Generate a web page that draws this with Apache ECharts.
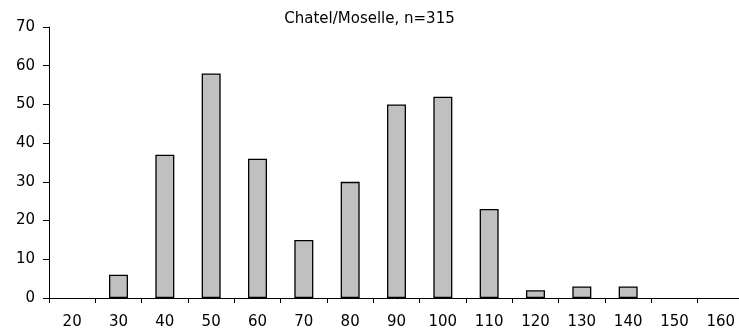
<!DOCTYPE html>
<html>
<head>
<meta charset="utf-8">
<script src="https://cdn.jsdelivr.net/npm/echarts@6/dist/echarts.min.js"></script>
<style>html,body{margin:0;padding:0;background:#fff;}#c{width:739px;height:334px;}</style>
</head>
<body>
<div id="c"></div>
<script>
const titleText = 'Chatel/Moselle, n=315';
const categories = ['20','30','40','50','60','70','80','90','100','110','120','130','140','150','160'];
const counts = [0, 6, 37, 58, 36, 15, 30, 50, 52, 23, 2, 3, 3, 0, 0];
const yTicks = { min: 0, max: 70, interval: 10 };

const font = 'DejaVu Sans';
const barData = counts.map(v => v === 0 ? { value: v, itemStyle: { borderWidth: 0 } } : v);
const chart = echarts.init(document.getElementById('c'), null, { renderer: 'canvas' });
chart.setOption({
  animation: false,
  backgroundColor: '#ffffff',
  title: {
    text: titleText,
    left: 'center',
    top: 7,
    textStyle: { fontFamily: font, fontSize: 15, fontWeight: 'normal', color: '#000' }
  },
  grid: { left: 49, right: -5, top: 27, bottom: 36, containLabel: false, outerBoundsMode: 'none' },
  xAxis: {
    type: 'category',
    data: categories,
    boundaryGap: true,
    axisLine: { show: true, lineStyle: { color: '#000', width: 1 } },
    axisTick: { show: true, alignWithLabel: false, length: 5, lineStyle: { color: '#000' } },
    axisLabel: { margin: 17, fontFamily: font, fontSize: 15, color: '#000', interval: 0 },
    splitLine: { show: false }
  },
  yAxis: {
    type: 'value',
    min: yTicks.min, max: yTicks.max, interval: yTicks.interval,
    axisLine: { show: true, lineStyle: { color: '#000', width: 1 } },
    axisTick: { show: true, length: 6, lineStyle: { color: '#000' } },
    axisLabel: { margin: 14, fontFamily: font, fontSize: 15, color: '#000' },
    splitLine: { show: false }
  },
  series: [{
    type: 'bar',
    data: barData,
    barWidth: '41%',
    itemStyle: { color: '#c0c0c0', borderColor: '#000', borderWidth: 1.3 }
  }]
});
</script>
</body>
</html>
